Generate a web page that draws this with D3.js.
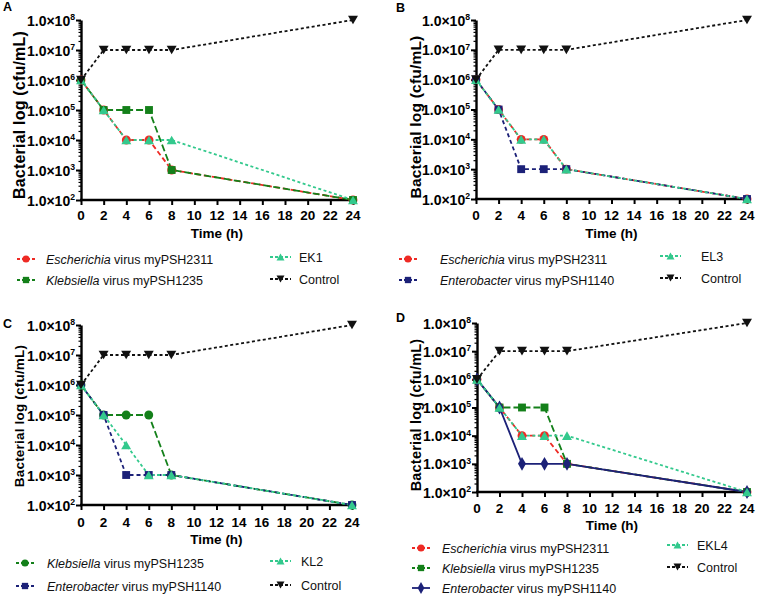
<!DOCTYPE html>
<html><head><meta charset="utf-8">
<script src="https://cdn.jsdelivr.net/npm/d3@7"></script>
<style>body{margin:0;background:#fff} svg{display:block}</style>
</head><body>
<svg id="c" width="758" height="597"></svg>
<script>
// ---------- DATA ----------
const times = [0, 2, 4, 6, 8, 24];
const xTickValues = [0, 2, 4, 6, 8, 10, 12, 14, 16, 18, 20, 22, 24];
const yTickExponents = [2, 3, 4, 5, 6, 7, 8];
const panelLabels = ["A", "B", "C", "D"];

const escherichiaA = [1e6, 1e5, 1e4, 1e4, 1e3, 1e2];
const klebsiellaA  = [1e6, 1e5, 1e5, 1e5, 1e3, 1e2];
const ek1          = [1e6, 1e5, 1e4, 1e4, 1e4, 1e2];
const controlA     = [1e6, 1e7, 1e7, 1e7, 1e7, 1e8];

const escherichiaB = [1e6, 1e5, 1e4, 1e4, 1e3, 1e2];
const enterobacterB= [1e6, 1e5, 1e3, 1e3, 1e3, 1e2];
const el3          = [1e6, 1e5, 1e4, 1e4, 1e3, 1e2];
const controlB     = [1e6, 1e7, 1e7, 1e7, 1e7, 1e8];

const klebsiellaC  = [1e6, 1e5, 1e5, 1e5, 1e3, 1e2];
const enterobacterC= [1e6, 1e5, 1e3, 1e3, 1e3, 1e2];
const kl2          = [1e6, 1e5, 1e4, 1e3, 1e3, 1e2];
const controlC     = [1e6, 1e7, 1e7, 1e7, 1e7, 1e8];

const escherichiaD = [1e6, 1e5, 1e4, 1e4, 1e3, 1e2];
const klebsiellaD  = [1e6, 1e5, 1e5, 1e5, 1e3, 1e2];
const enterobacterD= [1e6, 1e5, 1e3, 1e3, 1e3, 1e2];
const ekl4         = [1e6, 1e5, 1e4, 1e4, 1e4, 1e2];
const controlD     = [1e6, 1e7, 1e7, 1e7, 1e7, 1e8];

const legendNames = {
  esc: ["Escherichia", " virus myPSH2311"],
  kle: ["Klebsiella", " virus myPSH1235"],
  ent: ["Enterobacter", " virus myPSH1140"],
  ek1: ["", "EK1"], el3: ["", "EL3"], kl2: ["", "KL2"], ekl4: ["", "EKL4"],
  ctl: ["", "Control"]
};

// ---------- STYLES ----------
const RED = "#ee2a24", GREEN = "#14801a", NAVY = "#1c2178", TEAL = "#33c98d", BLACK = "#111";
const triDown = { draw(ctx, size) { const s = Math.sqrt(size * 1.6); const h = s * 0.866;
  ctx.moveTo(-s/2, -h/2); ctx.lineTo(s/2, -h/2); ctx.lineTo(0, h/2); ctx.closePath(); } };
const triUp = { draw(ctx, size) { const s = Math.sqrt(size * 1.6); const h = s * 0.866;
  ctx.moveTo(-s/2, h/2); ctx.lineTo(s/2, h/2); ctx.lineTo(0, -h/2); ctx.closePath(); } };

const st = {
  esc:  { color: RED,   dash: "5,3",  sym: d3.symbolCircle },
  kleSq:{ color: GREEN, dash: "7,3",  sym: d3.symbolSquare },
  kleCi:{ color: GREEN, dash: "7,3",  sym: d3.symbolCircle },
  entSq:{ color: NAVY,  dash: "4,3",  sym: d3.symbolSquare },
  entDi:{ color: NAVY,  dash: null,   sym: d3.symbolDiamond },
  combo:{ color: TEAL,  dash: "3,2.5",sym: triUp },
  ctl:  { color: BLACK, dash: "3,2.5",sym: triDown }
};

const panels = [
  { label: "A", x0: 81, x1: 353, yTop: 20, yBot: 200, lx: 3, ly: 11,
    tickFont: 14, titleFont: 16, titleX: 19, titleY: 115, xLabY: 220, timeY: 238,
    series: [
      { key: "esc", style: st.esc, values: escherichiaA },
      { key: "kle", style: st.kleSq, values: klebsiellaA },
      { key: "ek1", style: st.combo, values: ek1 },
      { key: "ctl", style: st.ctl, values: controlA } ],
    legend: [ { key: "esc", x: 17, y: 259 }, { key: "kle", x: 17, y: 280 },
              { key: "ek1", x: 270, y: 257 }, { key: "ctl", x: 270, y: 279 } ],
    textOff: 29 },
  { label: "B", x0: 476, x1: 747, yTop: 20, yBot: 199, lx: 396, ly: 12,
    tickFont: 14, titleFont: 15.5, titleX: 415, titleY: 117, xLabY: 220, timeY: 238,
    series: [
      { key: "esc", style: st.esc, values: escherichiaB },
      { key: "ent", style: st.entSq, values: enterobacterB },
      { key: "el3", style: st.combo, values: el3 },
      { key: "ctl", style: st.ctl, values: controlB } ],
    legend: [ { key: "esc", x: 399, y: 259 }, { key: "ent", x: 399, y: 280 },
              { key: "el3", x: 660, y: 256 }, { key: "ctl", x: 660, y: 278 } ],
    textOff: 41 },
  { label: "C", x0: 81, x1: 352, yTop: 325, yBot: 505, lx: 3, ly: 328,
    tickFont: 14, titleFont: 13.5, titleX: 19, titleY: 416, xLabY: 527, timeY: 544,
    series: [
      { key: "kle", style: st.kleCi, values: klebsiellaC },
      { key: "ent", style: st.entSq, values: enterobacterC },
      { key: "kl2", style: st.combo, values: kl2 },
      { key: "ctl", style: st.ctl, values: controlC } ],
    legend: [ { key: "kle", x: 16, y: 563 }, { key: "ent", x: 16, y: 586 },
              { key: "kl2", x: 270, y: 561 }, { key: "ctl", x: 270, y: 585 } ],
    textOff: 31 },
  { label: "D", x0: 477, x1: 747, yTop: 323, yBot: 492, lx: 396, ly: 322,
    tickFont: 14, titleFont: 14.5, titleX: 416, titleY: 415, xLabY: 513, timeY: 530,
    series: [
      { key: "esc", style: st.esc, values: escherichiaD },
      { key: "kle", style: st.kleSq, values: klebsiellaD },
      { key: "ent", style: st.entDi, values: enterobacterD },
      { key: "ekl4", style: st.combo, values: ekl4 },
      { key: "ctl", style: st.ctl, values: controlD } ],
    legend: [ { key: "esc", x: 412, y: 548 }, { key: "kle", x: 412, y: 568 },
              { key: "ent", x: 412, y: 588 },
              { key: "ekl4", x: 667, y: 545 }, { key: "ctl", x: 667, y: 567 } ],
    textOff: 30 }
];

const FONT = "'Liberation Sans', Arial, Helvetica, sans-serif";
const svg = d3.select("#c").style("font-family", FONT);

panels.forEach(p => {
  const g = svg.append("g");
  const x = d3.scaleLinear().domain([0, 24]).range([p.x0, p.x1]);
  const y = d3.scaleLog().domain([1e2, 1e8]).range([p.yBot, p.yTop]);

  // panel label
  g.append("text").attr("x", p.lx).attr("y", p.ly).text(p.label)
    .attr("font-size", 12.5).attr("font-weight", "bold");

  // minor y ticks
  const minors = [];
  for (let e = 2; e < 8; e++) for (let m = 2; m <= 9; m++) minors.push(m * Math.pow(10, e));
  g.append("g").attr("transform", `translate(${p.x0},0)`)
    .call(d3.axisLeft(y).tickValues(minors).tickSize(2.5).tickFormat("").tickSizeOuter(0))
    .call(s => s.select(".domain").remove())
    .call(s => s.selectAll("line").attr("stroke", "#000").attr("stroke-width", 1.2));

  // major y axis
  const yAx = g.append("g").attr("transform", `translate(${p.x0},0)`)
    .call(d3.axisLeft(y).tickValues(yTickExponents.map(e => Math.pow(10, e)))
      .tickSize(5).tickSizeOuter(0).tickFormat(""));
  yAx.select(".domain").attr("stroke", "#000").attr("stroke-width", 2.4);
  yAx.selectAll(".tick line").attr("stroke", "#000").attr("stroke-width", 2);
  yAx.selectAll(".tick").each(function(d) {
    const t = d3.select(this).append("text")
      .attr("x", -6).attr("dy", "0.36em").attr("text-anchor", "end")
      .attr("fill", "#000").attr("font-weight", "bold")
      .attr("font-size", p.tickFont)
      .style("font-family", FONT);
    t.append("tspan").text("1.0×10");
    t.append("tspan").attr("dy", -p.tickFont * 0.4).attr("font-size", p.tickFont * 0.62)
      .text(Math.round(Math.log10(d)));
  });

  // x axis
  const xAx = g.append("g").attr("transform", `translate(0,${p.yBot})`)
    .call(d3.axisBottom(x).tickValues(xTickValues).tickSize(5).tickSizeOuter(0).tickFormat(""));
  xAx.select(".domain").attr("stroke", "#000").attr("stroke-width", 2.4)
    .attr("d", `M${p.x0 - 1},0H${p.x1 + 1}`);
  xAx.selectAll(".tick line").attr("stroke", "#000").attr("stroke-width", 2);
  g.selectAll(null).data(xTickValues).enter().append("text")
    .attr("x", d => x(d)).attr("y", p.xLabY).attr("text-anchor", "middle")
    .attr("font-size", 13.5).attr("font-weight", "bold").text(d => d);

  // axis titles
  g.append("text").attr("x", (p.x0 + p.x1) / 2).attr("y", p.timeY)
    .attr("text-anchor", "middle").attr("font-size", 13.5).attr("font-weight", "bold")
    .text("Time (h)");
  g.append("text").attr("transform", `translate(${p.titleX},${p.titleY}) rotate(-90)`)
    .attr("dy", "0.36em").attr("text-anchor", "middle").attr("font-size", p.titleFont)
    .attr("font-weight", "bold").attr("letter-spacing", 0.2)
    .text("Bacterial log (cfu/mL)");

  // series lines
  const line = d3.line().x((d, i) => x(times[i])).y(d => y(d));
  p.series.forEach(s => {
    g.append("path").datum(s.values).attr("d", line)
      .attr("fill", "none").attr("stroke", s.style.color).attr("stroke-width", 1.8)
      .attr("stroke-dasharray", s.style.dash);
  });
  // series markers
  p.series.forEach(s => {
    const sym = d3.symbol().type(s.style.sym).size(s.style.sym === d3.symbolDiamond ? 55 : 62);
    g.selectAll(null).data(s.values).enter().append("path")
      .attr("d", sym).attr("transform", (d, i) => `translate(${x(times[i])},${y(d)})`)
      .attr("fill", s.style.color);
  });

  // legend
  p.legend.forEach(L => {
    const s = p.series.find(q => q.key === L.key);
    const lg = g.append("g");
    const segW = L.x > 600 || (L.x > 200 && L.x < 379) ? 21 : 18;
    lg.append("line").attr("x1", L.x).attr("x2", L.x + segW).attr("y1", L.y).attr("y2", L.y)
      .attr("stroke", s.style.color).attr("stroke-width", 1.8)
      .attr("stroke-dasharray", s.style.dash ? "3,2" : null);
    lg.append("path").attr("d", d3.symbol().type(s.style.sym).size(40))
      .attr("transform", `translate(${L.x + segW / 2},${L.y})`).attr("fill", s.style.color);
    const nm = legendNames[L.key];
    const t = lg.append("text").attr("x", L.x + p.textOff).attr("y", L.y).attr("dy", "0.36em")
      .attr("font-size", 12.5).attr("fill", "#111");
    if (nm[0]) t.append("tspan").attr("font-style", "italic").text(nm[0]);
    t.append("tspan").text(nm[1]);
  });
});
</script>
</body></html>
